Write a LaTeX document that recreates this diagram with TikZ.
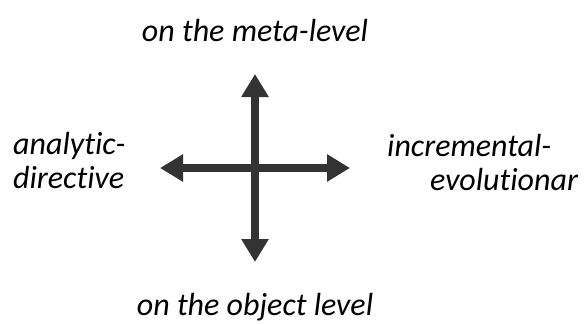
\documentclass[tikz,border=0pt]{standalone}
\usepackage{fontspec}
\setmainfont[Ligatures=NoCommon]{Carlito}
\usetikzlibrary{arrows.meta}
\definecolor{arrowgray}{HTML}{333333}
\begin{document}
\begin{tikzpicture}[x=1pt,y=-1pt,
  dblarrow/.style={draw=arrowgray,line width=8pt,
    {Triangle[width=26pt,length=23pt]}-{Triangle[width=26pt,length=23pt]}},
  lbl/.style={font=\fontsize{32}{38}\selectfont\itshape,inner sep=0pt,text=black}]
\useasboundingbox (0,0) rectangle (586,324);
\coordinate (c) at (255,168);
\coordinate (top) at (255,74);
\coordinate (bot) at (255,262);
\coordinate (lft) at (160,168);
\coordinate (rgt) at (350,168);
\draw[dblarrow] (top) -- (bot);
\draw[dblarrow] (lft) -- (rgt);
\node[lbl,anchor=base] (meta) at (255,41) {on the meta-level};
\node[lbl,anchor=base] (obj) at (255,315) {on the object level};
\node[lbl,anchor=base west] (ana1) at (13,154) {analytic-};
\node[lbl,anchor=base west] (ana2) at (13,188) {directive};
\node[lbl,anchor=base west] (inc1) at (387,156) {incremental-};
\node[lbl,anchor=base west] (inc2) at (430,190) {evolutionar};
\end{tikzpicture}
\end{document}
